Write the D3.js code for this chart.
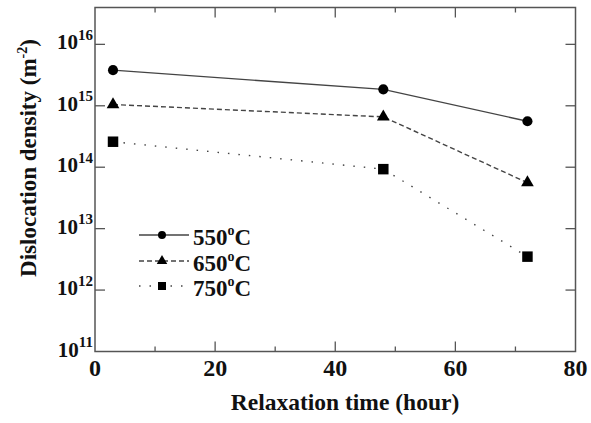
<!DOCTYPE html>
<html lang="en">
<head>
<meta charset="utf-8">
<title>Dislocation density vs relaxation time</title>
<script src="https://cdn.jsdelivr.net/npm/d3@7"></script>
<style>
  body { margin: 0; background: #fff; }
  text { font-family: "Liberation Serif", "DejaVu Serif", serif; font-weight: bold; fill: #111; }
</style>
</head>
<body>
<script>
// data
var times = [3, 48, 72];
var d550 = [3.8e15, 1.85e15, 5.6e14];
var d650 = [1.05e15, 6.6e14, 5.6e13];
var d750 = [2.6e14, 9.3e13, 3.5e12];
var seriesNames = ["550", "650", "750"];
var xTicks = [0, 20, 40, 60, 80];
var xMinor = [10, 30, 50, 70];
var yExps = [11, 12, 13, 14, 15, 16];

var w = 591, h = 423;
// plot box (note: "top" is a reserved window prop, so use mTop)
var mLeft = 95, mRight = 575.5, mTop = 7.5, mBottom = 351.5;

var svg = d3.select("body").append("svg")
  .attr("width", w).attr("height", h);

var x = d3.scaleLinear().domain([0, 80]).range([mLeft, mRight]);
var y = d3.scaleLog().domain([1e11, Math.pow(10, 16.6)]).range([mBottom, mTop]);

var axisColor = "#555";

// frame
svg.append("rect")
  .attr("x", mLeft).attr("y", mTop)
  .attr("width", mRight - mLeft).attr("height", mBottom - mTop)
  .attr("fill", "none").attr("stroke", axisColor).attr("stroke-width", 1.5);

// x ticks, inward on bottom and top
xTicks.forEach(function(t) {
  if (t > 0 && t < 80) {
    svg.append("line").attr("x1", x(t)).attr("x2", x(t))
      .attr("y1", mBottom).attr("y2", mBottom - 10)
      .attr("stroke", axisColor).attr("stroke-width", 1.3);
    svg.append("line").attr("x1", x(t)).attr("x2", x(t))
      .attr("y1", mTop).attr("y2", mTop + 10)
      .attr("stroke", axisColor).attr("stroke-width", 1.3);
  }
  svg.append("text").attr("x", x(t)).attr("y", 376)
    .attr("text-anchor", "middle").attr("font-size", 24)
    .text(t);
});
xMinor.forEach(function(t) {
  svg.append("line").attr("x1", x(t)).attr("x2", x(t))
    .attr("y1", mBottom).attr("y2", mBottom - 5)
    .attr("stroke", axisColor).attr("stroke-width", 1.3);
  svg.append("line").attr("x1", x(t)).attr("x2", x(t))
    .attr("y1", mTop).attr("y2", mTop + 5)
    .attr("stroke", axisColor).attr("stroke-width", 1.3);
});

// y ticks (decades only)
yExps.forEach(function(e) {
  var yy = y(Math.pow(10, e));
  if (e > 11) {
    svg.append("line").attr("x1", mLeft).attr("x2", mLeft + 10)
      .attr("y1", yy).attr("y2", yy)
      .attr("stroke", axisColor).attr("stroke-width", 1.3);
    svg.append("line").attr("x1", mRight).attr("x2", mRight - 10)
      .attr("y1", yy).attr("y2", yy)
      .attr("stroke", axisColor).attr("stroke-width", 1.3);
  }
  var lbl = svg.append("text").attr("x", 93).attr("y", yy + 5)
    .attr("text-anchor", "end").attr("font-size", 21);
  lbl.append("tspan").text("10");
  lbl.append("tspan").attr("dy", -9.5).attr("font-size", 15).text(e);
});

// axis titles
svg.append("text").attr("x", 345).attr("y", 410)
  .attr("text-anchor", "middle").attr("font-size", 23.5)
  .text("Relaxation time (hour)");

var yt = svg.append("text")
  .attr("transform", "translate(36,158) rotate(-90)")
  .attr("text-anchor", "middle").attr("font-size", 23);
yt.append("tspan").text("Dislocation density (m");
yt.append("tspan").attr("dy", -9).attr("font-size", 14).text("-2");
yt.append("tspan").attr("dy", 9).text(")");

// series
var series = [
  {name: seriesNames[0], vals: d550, dash: null, shape: d3.symbolCircle, size: 80, legSize: 50},
  {name: seriesNames[1], vals: d650, dash: "5,3", shape: d3.symbolTriangle, size: 70, legSize: 48},
  {name: seriesNames[2], vals: d750, dash: "1.5,9", shape: d3.symbolSquare, size: 110, legSize: 64}
];

var line = d3.line()
  .x(function(d) { return x(d[0]); })
  .y(function(d) { return y(d[1]); });

series.forEach(function(s) {
  var pts = times.map(function(t, i) { return [t, s.vals[i]]; });
  svg.append("path").datum(pts)
    .attr("d", line)
    .attr("fill", "none").attr("stroke", "#444").attr("stroke-width", 1.4)
    .attr("stroke-dasharray", s.dash);
  svg.selectAll(null).data(pts).enter().append("path")
    .attr("d", d3.symbol().type(s.shape).size(s.size))
    .attr("transform", function(d) { return "translate(" + x(d[0]) + "," + y(d[1]) + ")"; })
    .attr("fill", "#000");
});

// legend
var legY = [235, 261, 286];
series.forEach(function(s, i) {
  var ly = legY[i];
  svg.append("line").attr("x1", 139).attr("x2", 189)
    .attr("y1", ly).attr("y2", ly)
    .attr("stroke", "#444").attr("stroke-width", 1.4)
    .attr("stroke-dasharray", s.dash);
  svg.append("path")
    .attr("d", d3.symbol().type(s.shape).size(s.legSize))
    .attr("transform", "translate(162," + ly + ")")
    .attr("fill", "#000");
  var t = svg.append("text").attr("x", 193).attr("y", ly + 9.5)
    .attr("font-size", 23);
  t.append("tspan").text(s.name);
  t.append("tspan").attr("dy", -10).attr("font-size", 14).text("o");
  t.append("tspan").attr("dy", 10).text("C");
});
</script>
</body>
</html>
